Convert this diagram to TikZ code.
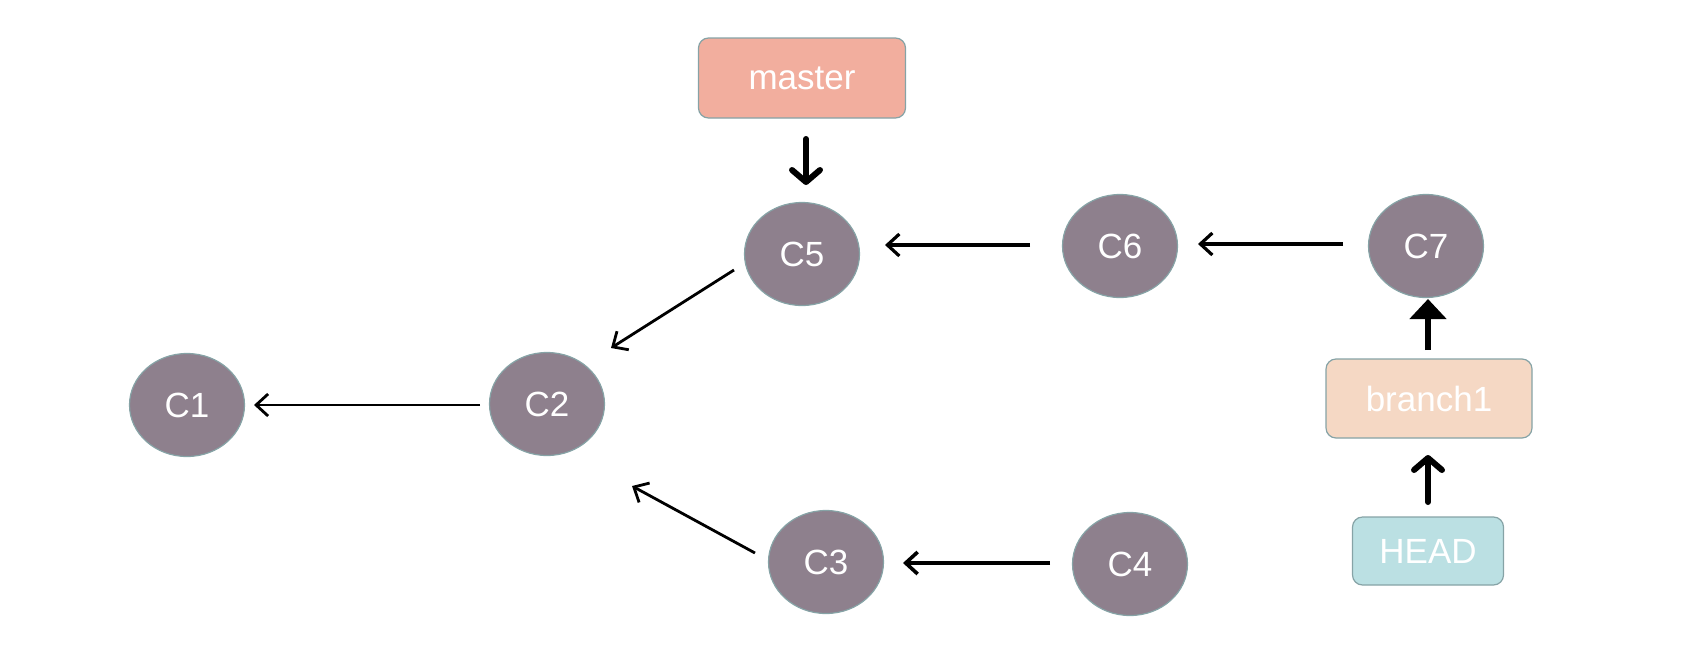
\documentclass[tikz,border=0pt]{standalone}
\usepackage{fontspec}
\setmainfont{Liberation Sans}
\usetikzlibrary{arrows.meta,shapes.geometric}
\definecolor{cfill}{HTML}{8E808D}
\definecolor{cborder}{HTML}{86A3A6}
\definecolor{mfill}{HTML}{F2AE9E}
\definecolor{bfill}{HTML}{F5D8C4}
\definecolor{hfill}{HTML}{BBE0E3}
\tikzset{
  commit/.style={ellipse, draw=cborder, line width=0.6pt, fill=cfill, minimum width=57.5pt, minimum height=51.5pt, inner sep=0pt, text=white, font=\fontsize{17.5pt}{20pt}\selectfont},
  label box/.style={rectangle, rounded corners=5pt, draw=cborder, line width=0.6pt, inner sep=0pt, text=white, font=\fontsize{17.5pt}{20pt}\selectfont},
  thinarrow/.style={-{Straight Barb[length=6pt,width=11pt]}, line width=1.4pt},
  thickarrow/.style={-{Straight Barb[length=6pt,width=14pt,round]}, line width=3pt, line cap=round},
  solidarrow/.style={-{Triangle[length=10pt,width=18pt]}, line width=3.2pt},
}
\begin{document}
\begin{tikzpicture}[x=0.5pt,y=-0.5pt]
\useasboundingbox (0,0) rectangle (1682,665);
\node[commit] (c1) at (187,405) {C1};
\node[commit] (c2) at (547,404) {C2};
\node[commit] (c5) at (802,254) {C5};
\node[commit] (c6) at (1120,246) {C6};
\node[commit] (c7) at (1426,246) {C7};
\node[commit] (c3) at (826,562) {C3};
\node[commit] (c4) at (1130,564) {C4};
\node[label box, fill=mfill, minimum width=103.5pt, minimum height=40pt] (master) at (802,78) {master};
\node[label box, fill=bfill, minimum width=103pt, minimum height=39.5pt] (branch) at (1429,398.5) {branch1};
\node[label box, fill=hfill, minimum width=75.5pt, minimum height=34pt] (head) at (1428,551) {HEAD};
\coordinate (a1s) at (480,405); \coordinate (a1e) at (254,405);
\draw[thinarrow] (a1s) -- (a1e);
\coordinate (a2s) at (734,270); \coordinate (a2e) at (611,348);
\draw[thinarrow] (a2s) -- (a2e);
\coordinate (a3s) at (755,553); \coordinate (a3e) at (632,486);
\draw[thinarrow] (a3s) -- (a3e);
\coordinate (a4s) at (1050,563); \coordinate (a4e) at (903,563);
\draw[thinarrow, line width=1.8pt] (a4s) -- (a4e);
\coordinate (a5s) at (1030,245); \coordinate (a5e) at (885,245);
\draw[thinarrow, line width=1.6pt] (a5s) -- (a5e);
\coordinate (a6s) at (1343,244); \coordinate (a6e) at (1198,244);
\draw[thinarrow, line width=1.6pt] (a6s) -- (a6e);
\coordinate (ms) at (806,139); \coordinate (me) at (806,185);
\draw[thickarrow] (ms) -- (me);
\coordinate (bs) at (1428,350); \coordinate (be) at (1428,299);
\draw[solidarrow] (bs) -- (be);
\coordinate (hs) at (1428,502); \coordinate (he) at (1428,455);
\draw[thickarrow] (hs) -- (he);
\end{tikzpicture}
\end{document}
